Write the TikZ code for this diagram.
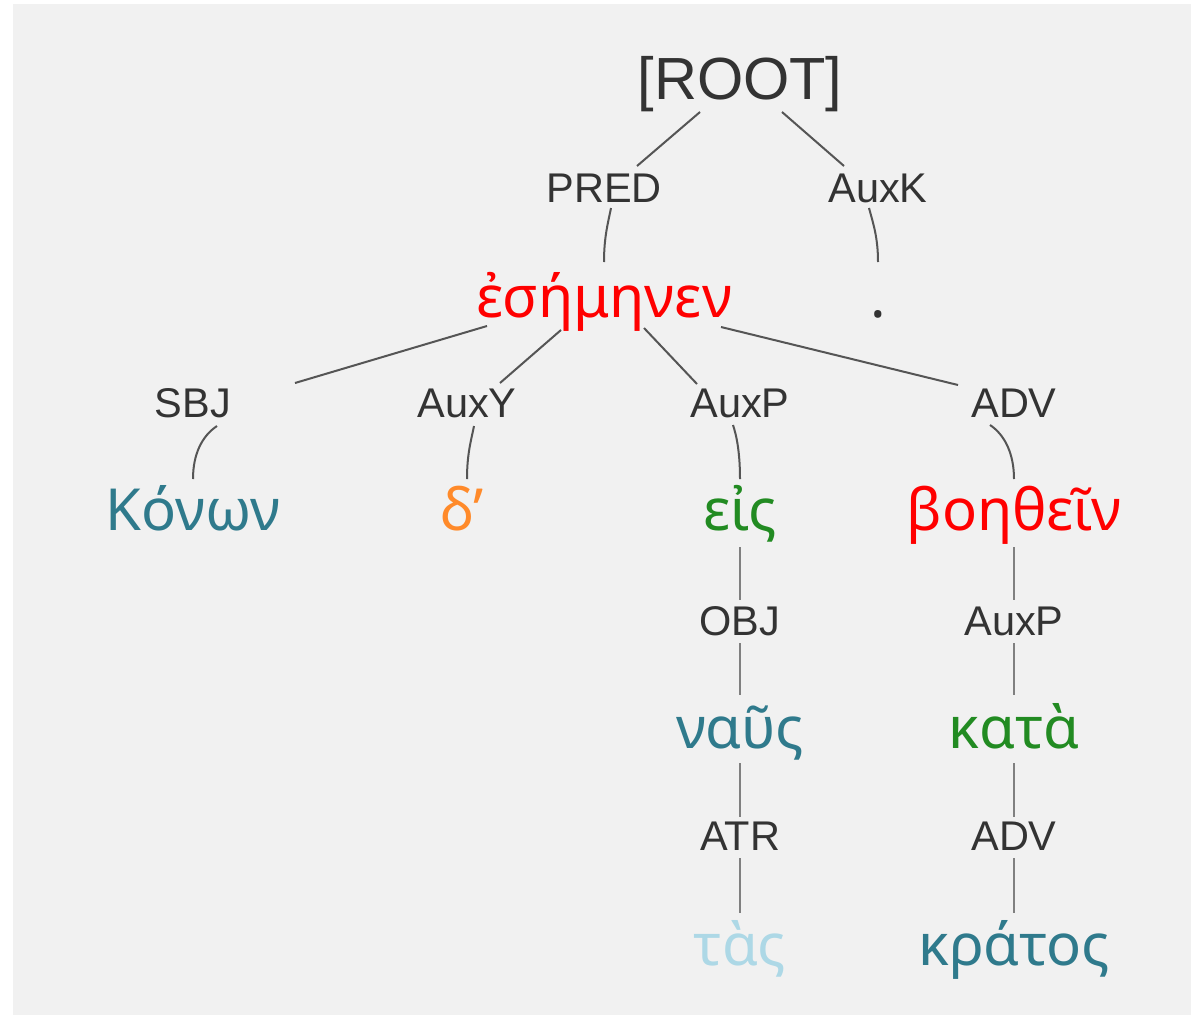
\documentclass[tikz,border=0pt]{standalone}
\usepackage{fontspec}
\setmainfont{Liberation Sans}
\newfontfamily\greekfont{Noto Sans}
\definecolor{bgc}{HTML}{F1F1F1}
\definecolor{labc}{HTML}{333333}
\definecolor{linec}{HTML}{555555}
\definecolor{vlinec}{HTML}{808080}
\definecolor{wred}{HTML}{FF0000}
\definecolor{wteal}{HTML}{2F7A8C}
\definecolor{worange}{HTML}{FF8A2A}
\definecolor{wgreen}{HTML}{228B22}
\definecolor{wlight}{HTML}{ADD8E6}
\begin{document}
\begin{tikzpicture}[x=1pt,y=-1pt,
  lab/.style={anchor=base, inner sep=0pt, text=labc, font=\fontsize{41.5}{45}\selectfont},
  rootlab/.style={anchor=base, inner sep=0pt, text=labc, font=\fontsize{59.5}{64}\selectfont},
  word/.style={anchor=base, inner sep=0pt, font=\greekfont\fontsize{58}{62}\selectfont},
  edge/.style={draw=linec, line width=2pt},
  vedge/.style={draw=vlinec, line width=2.5pt}]
\useasboundingbox (0,0) rectangle (1191,1017);
\fill[white] (0,0) rectangle (1191,1017);
\fill[bgc] (13,4) rectangle (1191,1015);

% nodes
\node[rootlab] (root) at (740,99) {[ROOT]};
\node[lab] (pred) at (604,202) {PRED};
\node[lab] (auxk) at (878,202) {AuxK};
\node[word, text=wred] (esem) at (604,317) {ἐσήμηνεν};
\node[word, text=labc] (dot) at (878,317) {.};
\node[lab] (sbj) at (193,417) {SBJ};
\node[lab] (auxy) at (467,417) {AuxY};
\node[lab] (auxp) at (740,417) {AuxP};
\node[lab] (adv) at (1014,417) {ADV};
\node[word, text=wteal] (konon) at (193,530) {Κόνων};
\node[word, text=worange] (de) at (462,530) {δ’};
\node[word, text=wgreen] (eis) at (740,530) {εἰς};
\node[word, text=wred] (boe) at (1014,530) {βοηθεῖν};
\node[lab] (obj) at (740,635) {OBJ};
\node[lab] (auxpb) at (1014,635) {AuxP};
\node[word, text=wteal] (naus) at (740,748) {ναῦς};
\node[word, text=wgreen] (kata) at (1014,748) {κατὰ};
\node[lab] (atr) at (740,850) {ATR};
\node[lab] (advb) at (1014,850) {ADV};
\node[word, text=wlight] (tas) at (740,965) {τὰς};
\node[word, text=wteal] (kratos) at (1014,965) {κράτος};

% connectors
\draw[edge] ([shift={(-40,13)}]root.base) -- ([shift={(33,-36)}]pred.base);
\draw[edge] ([shift={(42,13)}]root.base) -- ([shift={(-34,-36)}]auxk.base);
\draw[edge] ([shift={(7,6)}]pred.base) .. controls +(-3,15) and +(0,-25) .. ([shift={(0,-55)}]esem.base);
\draw[edge] ([shift={(-9,6)}]auxk.base) .. controls +(4,15) and +(0,-25) .. ([shift={(0,-55)}]dot.base);

\draw[edge] ([shift={(-117,9)}]esem.base) -- ([shift={(102,-34)}]sbj.base);
\draw[edge] ([shift={(-43,13)}]esem.base) -- ([shift={(33,-34)}]auxy.base);
\draw[edge] ([shift={(40,11)}]esem.base) -- ([shift={(-43,-33)}]auxp.base);
\draw[edge] ([shift={(117,10)}]esem.base) -- ([shift={(-56,-32)}]adv.base);

\draw[edge] ([shift={(24,9)}]sbj.base) .. controls +(-15,10) and +(0,-25) .. ([shift={(0,-51)}]konon.base);
\draw[edge] ([shift={(7,9)}]auxy.base) .. controls +(-3,15) and +(0,-25) .. ([shift={(5,-51)}]de.base);
\draw[edge] ([shift={(-7,8)}]auxp.base) .. controls +(4,12) and +(0,-25) .. ([shift={(0,-51)}]eis.base);
\draw[edge] ([shift={(-24,8)}]adv.base) .. controls +(15,10) and +(0,-25) .. ([shift={(0,-51)}]boe.base);

\draw[vedge] ([shift={(0,17)}]eis.base) -- ([shift={(0,-35)}]obj.base);
\draw[vedge] ([shift={(0,8)}]obj.base) -- ([shift={(0,-53)}]naus.base);
\draw[vedge] ([shift={(0,15)}]naus.base) -- ([shift={(0,-33)}]atr.base);
\draw[vedge] ([shift={(0,8)}]atr.base) -- ([shift={(0,-52)}]tas.base);

\draw[vedge] ([shift={(0,17)}]boe.base) -- ([shift={(0,-35)}]auxpb.base);
\draw[vedge] ([shift={(0,8)}]auxpb.base) -- ([shift={(0,-53)}]kata.base);
\draw[vedge] ([shift={(0,15)}]kata.base) -- ([shift={(0,-33)}]advb.base);
\draw[vedge] ([shift={(0,8)}]advb.base) -- ([shift={(0,-52)}]kratos.base);
\end{tikzpicture}
\end{document}
